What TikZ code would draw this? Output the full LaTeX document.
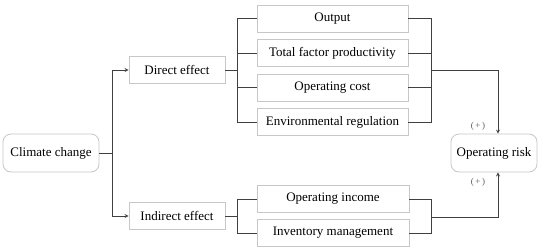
\documentclass[tikz,border=0pt]{standalone}
\usepackage{fontspec}
\setmainfont{Liberation Serif}
\usetikzlibrary{calc}
\begin{document}
\begin{tikzpicture}[>=stealth,x=1pt,y=-1pt,
  box/.style={draw=black!22,line width=0.8pt,minimum height=27pt,inner sep=0pt,font=\fontsize{13}{15}\selectfont},
  rbox/.style={box,rounded corners=8pt,minimum height=38pt},
  link/.style={draw=black!75,line width=0.8pt},
  sign/.style={text=black!65,font=\fontsize{9}{10}\selectfont}]
  \useasboundingbox (0,0) rectangle (550,252);
  % Cause and outcome
  \node[rbox,minimum width=96pt] (clim) at (51,153) {Climate change};
  \node[rbox,minimum width=86pt] (risk) at (494,153) {Operating risk};
  % Channels
  \node[box,minimum width=96pt] (direct) at (177,70) {Direct effect};
  \node[box,minimum width=96pt] (indirect) at (177,216) {Indirect effect};
  % Direct effect items
  \node[box,minimum width=151pt] (output) at (332.5,18.5) {Output};
  \node[box,minimum width=151pt] (tfp) at (332.5,53) {Total factor productivity};
  \node[box,minimum width=151pt] (cost) at (332.5,87.5) {Operating cost};
  \node[box,minimum width=151pt] (envreg) at (332.5,122) {Environmental regulation};
  % Indirect effect items
  \node[box,minimum width=152pt] (income) at (333,199) {Operating income};
  \node[box,minimum width=152pt] (invent) at (333,233) {Inventory management};
  % Junctions
  \coordinate (jl) at (112,153);
  \coordinate (jd) at (237,70);
  \coordinate (ji) at (237,216);
  \coordinate (jr) at (431,70);
  \coordinate (jb) at (431,217);
  % Connectors
  \draw[link] (clim) -- (jl);
  \draw[link,->] (jl) |- (direct);
  \draw[link,->] (jl) |- (indirect);
  \draw[link] (direct) -- (jd);
  \draw[link] (indirect) -- (ji);
  \foreach \n in {output,tfp,cost,envreg} {
    \draw[link] (jd) |- (\n.west);
    \draw[link] (\n.east) -| (jr);
  }
  \foreach \n in {income,invent} {
    \draw[link] (ji) |- (\n.west);
    \draw[link] (\n.east) -| (jb);
  }
  \draw[link,->] (jr) -| ([xshift=4pt]risk.north);
  \draw[link,->] (jb) -| ([xshift=4pt]risk.south);
  % Signs
  \node[sign] (plus1) at (478,126) {(\,+\,)};
  \node[sign] (plus2) at (478,182) {(\,+\,)};
\end{tikzpicture}
\end{document}
